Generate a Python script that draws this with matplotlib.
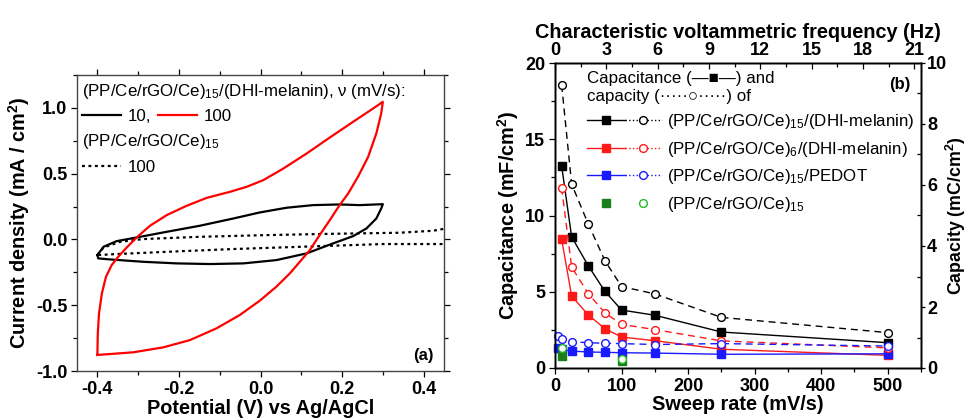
import matplotlib
matplotlib.use("Agg")
import matplotlib.pyplot as plt
from matplotlib.lines import Line2D
from matplotlib.legend_handler import HandlerTuple
from matplotlib.ticker import MultipleLocator

plt.rcParams['font.family'] = ['Liberation Sans', 'DejaVu Sans']
plt.rcParams['mathtext.fontset'] = 'custom'
plt.rcParams['mathtext.rm'] = 'Liberation Sans'
plt.rcParams['mathtext.bf'] = 'Liberation Sans:bold'
plt.rcParams['mathtext.default'] = 'regular'

# ---------------- Panel (a) data: cyclic voltammograms ----------------
red_E = [-0.400, -0.399, -0.396, -0.389, -0.379, -0.365, -0.349, -0.328, -0.302, -0.271,
         -0.230, -0.181, -0.132, -0.075, -0.034, 0.007, 0.056, 0.113, 0.170, 0.227,
         0.276, 0.300, 0.296, 0.284, 0.264, 0.239, 0.215, 0.194, 0.170, 0.145,
         0.121, 0.100, 0.072, 0.039, -0.002, -0.051, -0.108, -0.173, -0.238, -0.312,
         -0.369, -0.400]
red_j = [-0.878, -0.714, -0.562, -0.410, -0.284, -0.195, -0.132, -0.061, 0.020, 0.104,
         0.185, 0.256, 0.316, 0.362, 0.400, 0.451, 0.539, 0.653, 0.775, 0.894,
         0.995, 1.046, 0.957, 0.805, 0.628, 0.476, 0.349, 0.261, 0.147, 0.033,
         -0.081, -0.157, -0.258, -0.359, -0.466, -0.575, -0.676, -0.765, -0.820, -0.858,
         -0.871, -0.878]

black_E = [-0.400, -0.385, -0.353, -0.304, -0.230, -0.149, -0.067, -0.002, 0.064, 0.129,
           0.194, 0.243, 0.300, 0.296, 0.284, 0.260, 0.227, 0.178, 0.113, 0.039,
           -0.042, -0.124, -0.206, -0.287, -0.369, -0.398, -0.400]
black_j = [-0.119, -0.056, -0.013, 0.015, 0.058, 0.104, 0.159, 0.205, 0.241, 0.261,
           0.266, 0.261, 0.268, 0.235, 0.159, 0.084, 0.025, -0.030, -0.106, -0.157,
           -0.182, -0.187, -0.182, -0.170, -0.152, -0.144, -0.119]

bare_E = [-0.400, -0.385, -0.344, -0.287, -0.149, 0.015, 0.178, 0.341, 0.423, 0.456,
          0.456, 0.300, 0.096, -0.067, -0.230, -0.353, -0.400]
bare_j = [-0.119, -0.061, -0.018, 0.003, 0.020, 0.033, 0.043, 0.051, 0.066, 0.084,
          -0.035, -0.035, -0.056, -0.073, -0.094, -0.111, -0.119]

# ---------------- Panel (b) data ----------------
rate_main = [10, 25, 50, 75, 100, 150, 250, 500]
blk_cap = [13.25, 8.6, 6.7, 5.03, 3.8, 3.46, 2.36, 1.66]      # mF/cm2
blk_q = [9.28, 6.03, 4.72, 3.52, 2.67, 2.43, 1.66, 1.16]      # mC/cm2
red_cap = [8.44, 4.72, 3.48, 2.58, 2.03, 1.79, 1.23, 0.83]
red_q = [5.91, 3.31, 2.44, 1.81, 1.43, 1.26, 0.89, 0.66]
rate_blue = [5, 10, 25, 50, 75, 100, 150, 250, 500]
blu_cap = [1.29, 1.22, 1.11, 1.05, 1.03, 1.00, 0.98, 0.90, 0.93]
blu_q = [1.05, 0.96, 0.86, 0.83, 0.81, 0.80, 0.77, 0.80, 0.72]
rate_green = [10, 100]
grn_cap = [0.79, 0.43]
grn_q = [0.65, 0.31]

W, H = 969, 420
fig = plt.figure(figsize=(W / 100, H / 100), dpi=100)

TICK = 13
LAB = 14.3
LEG = 12.2

# ================= Panel (a) =================
axa = fig.add_axes([77 / W, (H - 371) / H, 367 / W, 296 / H])
axa.plot(bare_E, bare_j, color='black', lw=1.6, ls=(0, (1.3, 1.6)))
axa.plot(black_E, black_j, color='black', lw=1.6)
axa.plot(red_E, red_j, color='#ff0000', lw=1.6)
axa.set_xlim(-0.45, 0.45)
axa.set_ylim(-1.0, 1.25)
axa.xaxis.set_minor_locator(MultipleLocator(0.1))
axa.yaxis.set_minor_locator(MultipleLocator(0.25))
axa.set_xticks([-0.4, -0.2, 0.0, 0.2, 0.4])
axa.set_xticklabels(['-0.4', '-0.2', '0.0', '0.2', '0.4'], fontweight='bold', fontsize=TICK)
axa.set_yticks([-1.0, -0.5, 0.0, 0.5, 1.0])
axa.set_yticklabels(['-1.0', '-0.5', '0.0', '0.5', '1.0'], fontweight='bold', fontsize=TICK)
axa.tick_params(which='both', direction='out', top=True, right=True, pad=3)
axa.tick_params(which='major', length=4, width=0.9)
axa.tick_params(which='minor', length=3, width=0.9)
for s in axa.spines.values():
    s.set_linewidth(1.0)
    s.set_color('#444444')
axa.set_xlabel('Potential (V) vs Ag/AgCl', fontsize=LAB, fontweight='bold', labelpad=1)
axa.set_ylabel('Current density (mA / cm$^2$)', fontsize=LAB, fontweight='bold', labelpad=3)
axa.text(0.943, 0.054, '(a)', transform=axa.transAxes, fontsize=12, fontweight='bold',
         ha='center', va='center')

h_blk = Line2D([], [], color='black', lw=1.6)
h_red = Line2D([], [], color='#ff0000', lw=1.6)
leg1 = axa.legend([h_blk, h_red], ['10,', '100'], ncol=2, frameon=False,
                  title='(PP/Ce/rGO/Ce)$_{15}$/(DHI-melanin), ν (mV/s):',
                  loc='upper left', bbox_to_anchor=(-0.005, 1.0), borderaxespad=0.2,
                  fontsize=LEG, title_fontsize=LEG, alignment='left',
                  handlelength=2.3, handletextpad=0.4, columnspacing=0.4,
                  borderpad=0.2)
axa.add_artist(leg1)
h_bare = Line2D([], [], color='black', lw=1.6, ls=(0, (1.3, 1.6)))
leg2 = axa.legend([h_bare], ['100'], frameon=False,
                  title='(PP/Ce/rGO/Ce)$_{15}$',
                  loc='upper left', bbox_to_anchor=(-0.005, 0.83), borderaxespad=0.2,
                  fontsize=LEG, title_fontsize=LEG, alignment='left',
                  handlelength=2.3, handletextpad=0.4, borderpad=0.2)

# ================= Panel (b) =================
axb = fig.add_axes([555 / W, (H - 368) / H, 366 / W, 305 / H])
axr = axb.twinx()
axt = axb.twiny()

ms_s, ms_o = 5.2, 5.6
dash = (0, (5, 3.5))
# capacitance (left axis)
axb.plot(rate_main, blk_cap, color='black', lw=1.0, marker='s', ms=ms_s, clip_on=False, zorder=3)
axb.plot(rate_main, red_cap, color='#ff1a1a', lw=1.0, marker='s', ms=ms_s, clip_on=False, zorder=3)
axb.plot(rate_blue, blu_cap, color='#1a1aff', lw=1.0, marker='s', ms=ms_s, clip_on=False, zorder=3)
axb.plot(rate_green, grn_cap, color='#1a7f1a', lw=0, marker='s', ms=ms_s, clip_on=False, zorder=3)
# capacity (right axis)
axr.plot(rate_main, blk_q, color='black', lw=1.0, ls=dash, marker='o', ms=ms_o,
         mfc='white', mew=1.0, clip_on=False)
axr.plot(rate_main, red_q, color='#ff1a1a', lw=1.0, ls=dash, marker='o', ms=ms_o,
         mfc='white', mew=1.0, clip_on=False)
axr.plot(rate_blue, blu_q, color='#1a1aff', lw=1.0, ls=dash, marker='o', ms=ms_o,
         mfc='white', mew=1.0, clip_on=False)
axr.plot(rate_green, grn_q, color='#22bb22', lw=0, marker='o', ms=ms_o,
         mfc='white', mew=1.0, clip_on=False)

axb.set_xlim(0, 550)
axb.set_ylim(0, 20)
axr.set_ylim(0, 10)
axt.set_xlim(0, 21.4)
axb.xaxis.set_major_locator(MultipleLocator(100))
axb.xaxis.set_minor_locator(MultipleLocator(50))
axb.yaxis.set_major_locator(MultipleLocator(5))
axb.yaxis.set_minor_locator(MultipleLocator(2.5))
axr.yaxis.set_major_locator(MultipleLocator(2))
axr.yaxis.set_minor_locator(MultipleLocator(1))
axt.xaxis.set_major_locator(MultipleLocator(3))
axt.xaxis.set_minor_locator(MultipleLocator(1.5))

axb.tick_params(which='both', direction='out', labelsize=TICK, pad=3)
axt.tick_params(which='both', direction='in', labelsize=TICK, pad=3)
for a in (axb, axr, axt):
    a.tick_params(which='major', length=4, width=0.9)
    a.tick_params(which='minor', length=3, width=0.9)
    for s in a.spines.values():
        s.set_linewidth(1.0)
axr.tick_params(which='major', direction='out', labelsize=TICK, pad=1.5, length=3)
axr.tick_params(which='minor', direction='in')
for a in (axb, axr, axt):
    for lab in a.get_xticklabels() + a.get_yticklabels():
        lab.set_fontweight('bold')

axb.set_xlabel('Sweep rate (mV/s)', fontsize=LAB, fontweight='bold', labelpad=0)
axb.set_ylabel('Capacitance (mF/cm$^2$)', fontsize=LAB, fontweight='bold', labelpad=3)
axr.set_ylabel('Capacity (mC/cm$^2$)', fontsize=12.8, fontweight='bold')
axr.yaxis.set_label_coords(1.062, 0.5)
axt.set_xlabel('Characteristic voltammetric frequency (Hz)', fontsize=LAB,
               fontweight='bold', labelpad=3)
axt.text(0.943, 0.928, '(b)', transform=axt.transAxes, fontsize=12, fontweight='bold',
         ha='center', va='center')


def pair(col_s, col_o, with_line=True):
    ls1 = '-' if with_line else 'none'
    ls2 = ':' if with_line else 'none'
    a = Line2D([], [], color=col_s, ls=ls1, lw=1.0, marker='s', ms=ms_s)
    b = Line2D([], [], color=col_o, ls=ls2, lw=1.0, marker='o', ms=ms_o,
               mfc='white', mew=1.0)
    return (a, b)


handles = [pair('black', 'black'), pair('#ff1a1a', '#ff1a1a'),
           pair('#1a1aff', '#1a1aff'), pair('#1a7f1a', '#22bb22', False)]
labels = ['(PP/Ce/rGO/Ce)$_{15}$/(DHI-melanin)', '(PP/Ce/rGO/Ce)$_{6}$/(DHI-melanin)',
          '(PP/Ce/rGO/Ce)$_{15}$/PEDOT', '(PP/Ce/rGO/Ce)$_{15}$']
legb = axt.legend(handles, labels, handler_map={tuple: HandlerTuple(ndivide=None, pad=0)},
                  title='Capacitance (—■—) and\ncapacity (·····○·····) of',
                  frameon=False, loc='upper left', bbox_to_anchor=(0.07, 0.995),
                  fontsize=LEG, title_fontsize=LEG, alignment='left',
                  handlelength=4.4, handletextpad=0.3, labelspacing=0.5,
                  borderpad=0.2, borderaxespad=0.2)

fig.savefig('out.png', dpi=100)
